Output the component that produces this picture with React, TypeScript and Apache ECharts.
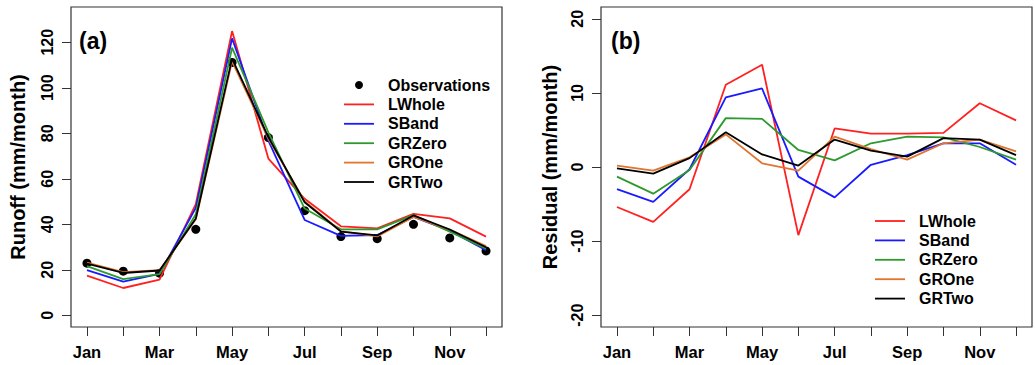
import React, { useEffect, useRef } from "react";
import * as echarts from "echarts";

const months = ["Jan", "Feb", "Mar", "Apr", "May", "Jun", "Jul", "Aug", "Sep", "Oct", "Nov", "Dec"];
const monthTickIdx = [0, 1, 2, 3, 4, 5, 6, 7, 8, 9, 10, 11];
const monthLabelIdx = [0, 2, 4, 6, 8, 10];
const runoffTicks = [0, 20, 40, 60, 80, 100, 120];
const residualTicks = [-20, -10, 0, 10, 20];

const seriesNames = ["LWhole", "SBand", "GRZero", "GROne", "GRTwo"];
const seriesColors = ["#ff2020", "#1a1aff", "#2e9a2e", "#e07530", "#000000"];

// Panel (a): monthly runoff (mm/month)
const observations = [22.9, 19.4, 18.5, 37.8, 111.1, 78.1, 46.0, 34.6, 33.7, 40.0, 34.0, 28.3];
const runoffLWhole = [17.4, 12.0, 15.7, 48.9, 124.9, 68.9, 51.2, 39.1, 38.2, 44.6, 42.6, 34.6];
const runoffSBand = [19.9, 14.8, 18.2, 47.2, 121.7, 76.8, 41.9, 34.9, 35.3, 43.2, 37.2, 28.6];
const runoffGRZero = [21.6, 15.9, 18.1, 44.4, 117.6, 80.4, 46.9, 37.8, 37.8, 44.0, 36.7, 29.3];
const runoffGROne = [23.1, 19.0, 19.8, 42.2, 111.6, 77.6, 50.1, 37.0, 34.7, 43.2, 37.7, 30.4];
const runoffGRTwo = [22.7, 18.6, 19.7, 42.5, 112.8, 78.3, 49.7, 36.8, 35.1, 43.9, 37.7, 29.9];

// Panel (b): residuals (mm/month)
const residLWhole = [-5.4, -7.4, -3.0, 11.1, 13.8, -9.2, 5.2, 4.5, 4.5, 4.6, 8.6, 6.3];
const residSBand = [-3.0, -4.7, -0.3, 9.4, 10.6, -1.3, -4.1, 0.3, 1.6, 3.2, 3.2, 0.3];
const residGRZero = [-1.3, -3.6, -0.4, 6.6, 6.5, 2.3, 0.9, 3.2, 4.1, 4.0, 2.7, 1.0];
const residGROne = [0.2, -0.5, 1.3, 4.4, 0.5, -0.5, 4.1, 2.4, 1.0, 3.2, 3.7, 2.1];
const residGRTwo = [-0.2, -0.9, 1.2, 4.7, 1.7, 0.2, 3.7, 2.2, 1.4, 3.9, 3.7, 1.6];

const runoffModels = [runoffLWhole, runoffSBand, runoffGRZero, runoffGROne, runoffGRTwo];
const residModels = [residLWhole, residSBand, residGRZero, residGROne, residGRTwo];

const FONT = "'Liberation Sans', Arial, Helvetica, sans-serif";
const LINE_ICON = "path://M0 0H30V1.8H0Z";

const toPairs = (vals: number[]) => vals.map((v, i) => [i, v]);

function makeX(gridIndex: number) {
  return {
    type: "value",
    gridIndex,
    min: -0.44,
    max: 11.44,
    splitLine: { show: false },
    axisLine: { show: false, onZero: false },
    axisTick: {
      show: true,
      inside: false,
      length: 9,
      customValues: monthTickIdx,
      lineStyle: { color: "#333", width: 1 },
    },
    axisLabel: {
      customValues: monthLabelIdx,
      formatter: (v: number) => months[Math.round(v)] ?? "",
      fontFamily: FONT,
      fontWeight: "bold",
      fontSize: 16.5,
      color: "#000",
      margin: 16,
    },
  };
}

function makeY(gridIndex: number, min: number, max: number, ticks: number[], name: string, nameGap: number) {
  return {
    type: "value",
    gridIndex,
    min,
    max,
    name,
    nameLocation: "middle",
    nameRotate: 90,
    nameGap,
    nameTextStyle: { fontFamily: FONT, fontWeight: "bold", fontSize: 20, color: "#000" },
    splitLine: { show: false },
    axisLine: { show: false, onZero: false },
    axisTick: {
      show: true,
      inside: false,
      length: 9,
      customValues: ticks,
      lineStyle: { color: "#333", width: 1 },
    },
    axisLabel: {
      customValues: ticks,
      rotate: 90,
      fontFamily: FONT,
      fontWeight: "bold",
      fontSize: 16,
      color: "#000",
      margin: 16,
    },
  };
}

export default function App() {
  const ref = useRef<HTMLDivElement>(null);

  useEffect(() => {
    if (!ref.current) return;
    const chart = echarts.init(ref.current, null, { renderer: "svg" });

    const series: any[] = [];
    series.push({
      name: "Observations",
      type: "scatter",
      xAxisIndex: 0,
      yAxisIndex: 0,
      symbol: "circle",
      symbolSize: 9,
      itemStyle: { color: "#000", opacity: 1 },
      data: toPairs(observations),
      z: 2,
    });
    seriesNames.forEach((n, k) => {
      series.push({
        name: n,
        type: "line",
        xAxisIndex: 0,
        yAxisIndex: 0,
        symbol: "none",
        lineStyle: { color: seriesColors[k], width: 1.8 },
        itemStyle: { color: seriesColors[k] },
        data: toPairs(runoffModels[k]),
        z: 3,
      });
    });
    seriesNames.forEach((n, k) => {
      series.push({
        name: n,
        type: "line",
        xAxisIndex: 1,
        yAxisIndex: 1,
        symbol: "none",
        lineStyle: { color: seriesColors[k], width: 1.8 },
        itemStyle: { color: seriesColors[k] },
        data: toPairs(residModels[k]),
        z: 3,
      });
    });

    const legendCommon = {
      orient: "vertical",
      padding: 0,
      itemWidth: 30,
      itemHeight: 8,
      itemGap: 3.4,
      selectedMode: false,
      symbolKeepAspect: true,
      textStyle: {
        fontFamily: FONT,
        fontWeight: "bold",
        fontSize: 16,
        color: "#000",
        padding: [0, 0, 0, 9],
      },
    };
    const lineItems = seriesNames.map((n, k) => ({
      name: n,
      icon: LINE_ICON,
      itemStyle: { color: seriesColors[k] },
    }));

    chart.setOption({
      animation: false,
      backgroundColor: "#fff",
      grid: [
        { left: 71, top: 7, width: 431, height: 320, show: true, borderColor: "#333", borderWidth: 1.2, backgroundColor: "transparent" },
        { left: 601, top: 7, width: 431, height: 320, show: true, borderColor: "#333", borderWidth: 1.2, backgroundColor: "transparent" },
      ],
      xAxis: [makeX(0), makeX(1)],
      yAxis: [
        makeY(0, -5.14, 135.5, runoffTicks, "Runoff (mm/month)", 43),
        makeY(1, -21.6, 21.6, residualTicks, "Residual (mm/month)", 41),
      ],
      legend: [
        {
          ...legendCommon,
          left: 344,
          top: 77,
          data: [{ name: "Observations", icon: "circle", itemStyle: { color: "#000" } }, ...lineItems],
        },
        { ...legendCommon, left: 875, top: 213, data: lineItems },
      ],
      graphic: [
        { type: "text", left: 79, top: 29, style: { text: "(a)", font: `bold 23px ${FONT}`, fill: "#000" } },
        { type: "text", left: 611, top: 29, style: { text: "(b)", font: `bold 23px ${FONT}`, fill: "#000" } },
      ],
      series,
    });

    return () => chart.dispose();
  }, []);

  return <div ref={ref} style={{ position: "fixed", left: 0, top: 0, width: 1035, height: 365, background: "#fff" }} />;
}
